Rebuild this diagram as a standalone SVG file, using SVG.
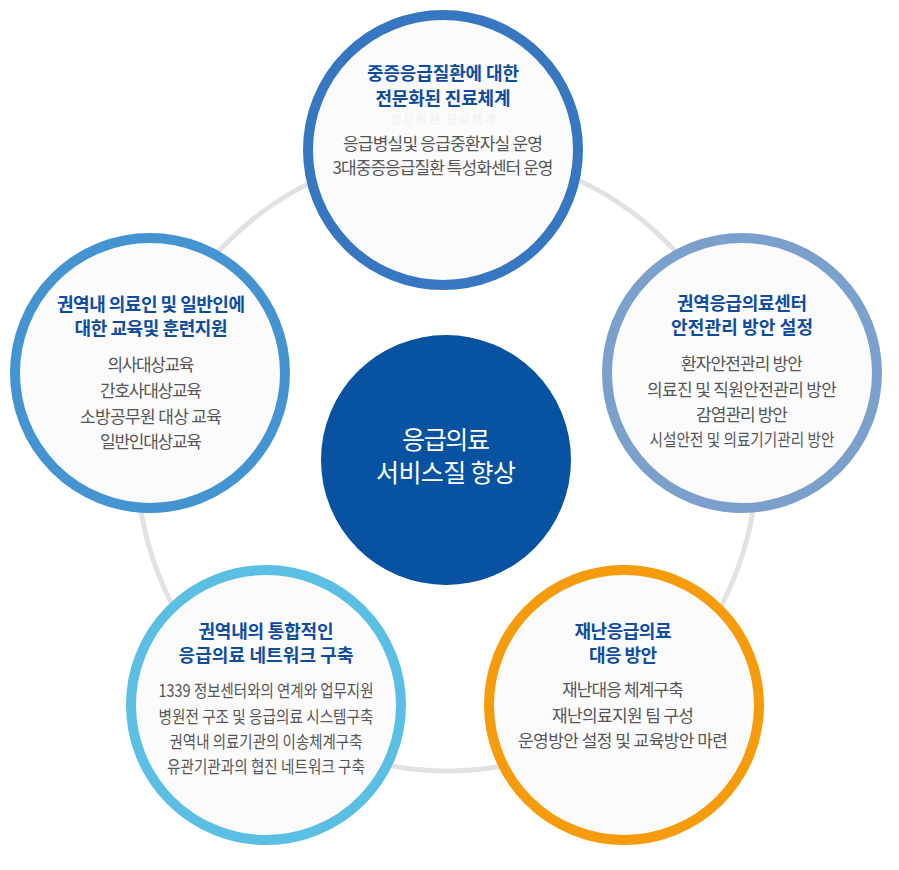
<svg xmlns="http://www.w3.org/2000/svg" width="899" height="870" viewBox="0 0 899 870">
<style>
text{font-family:"Noto Sans CJK KR","Noto Sans",sans-serif;text-anchor:middle}
.node{fill:#fbfbfb;stroke-width:10}
.t{font-size:18px;font-weight:700;fill:#104c9e}
.b{font-size:17px;fill:#555555}
.w{font-size:25px;fill:#ffffff}
</style>
<rect width="899" height="870" fill="#ffffff"/>
<g id="connectors">
<circle cx="447" cy="461" r="310" fill="none" stroke="#e2e2e2" stroke-width="5"/>
</g>
<g id="center">
<circle cx="446" cy="460" r="125" fill="#0853a1"/>
<text class="w" x="446" y="449" textLength="88">응급의료</text>
<text class="w" x="446" y="482" textLength="140">서비스질 향상</text>
</g>
<g id="node-top">
<circle class="node" cx="443" cy="150" r="135" stroke="#3777c1"/>
<text class="t" x="443" y="80" textLength="152">중증응급질환에 대한</text>
<text class="t" x="443" y="105" textLength="135">전문화된 진료체계</text>
<text class="t" x="443" y="124" textLength="105" style="fill:#f2f3f5;font-size:12px">전문화된 진료체계</text>
<text class="b" x="443" y="150" textLength="200">응급병실및 응급중환자실 운영</text>
<text class="b" x="443" y="174" textLength="221">3대중증응급질환 특성화센터 운영</text>
</g>
<g id="node-right">
<circle class="node" cx="742" cy="373" r="135" stroke="#7aa0cb"/>
<text class="t" x="742" y="310" textLength="130">권역응급의료센터</text>
<text class="t" x="742" y="334" textLength="142">안전관리 방안 설정</text>
<text class="b" x="742" y="370" textLength="122">환자안전관리 방안</text>
<text class="b" x="742" y="396" textLength="190">의료진 및 직원안전관리 방안</text>
<text class="b" x="742" y="421" textLength="92">감염관리 방안</text>
<text class="b" x="742" y="446" textLength="185" lengthAdjust="spacingAndGlyphs">시설안전 및 의료기기관리 방안</text>
</g>
<g id="node-left">
<circle class="node" cx="150" cy="373" r="135" stroke="#4494d1"/>
<text class="t" x="151" y="311" textLength="188">권역내 의료인 및 일반인에</text>
<text class="t" x="151" y="335" textLength="153">대한 교육및 훈련지원</text>
<text class="b" x="151" y="371" textLength="87">의사대상교육</text>
<text class="b" x="151" y="397" textLength="102">간호사대상교육</text>
<text class="b" x="151" y="423" textLength="142">소방공무원 대상 교육</text>
<text class="b" x="151" y="448" textLength="102">일반인대상교육</text>
</g>
<g id="node-bottom-left">
<circle class="node" cx="266" cy="705" r="135" stroke="#5bbfe4"/>
<text class="t" x="266" y="638" textLength="135">권역내의 통합적인</text>
<text class="t" x="266" y="662" textLength="175">응급의료 네트워크 구축</text>
<text class="b" x="266" y="697" textLength="215" lengthAdjust="spacingAndGlyphs">1339 정보센터와의 연계와 업무지원</text>
<text class="b" x="266" y="723" textLength="215" lengthAdjust="spacingAndGlyphs">병원전 구조 및 응급의료 시스템구축</text>
<text class="b" x="266" y="748" textLength="193" lengthAdjust="spacingAndGlyphs">권역내 의료기관의 이송체계구축</text>
<text class="b" x="266" y="773" textLength="198" lengthAdjust="spacingAndGlyphs">유관기관과의 협진 네트워크 구축</text>
</g>
<g id="node-bottom-right">
<circle class="node" cx="624" cy="705" r="135" stroke="#f59b0c"/>
<text class="t" x="623" y="638" textLength="97">재난응급의료</text>
<text class="t" x="623" y="662" textLength="68">대응 방안</text>
<text class="b" x="623" y="696" textLength="122">재난대응 체계구축</text>
<text class="b" x="623" y="722" textLength="142">재난의료지원 팀 구성</text>
<text class="b" x="623" y="747" textLength="210">운영방안 설정 및 교육방안 마련</text>
</g>
</svg>
